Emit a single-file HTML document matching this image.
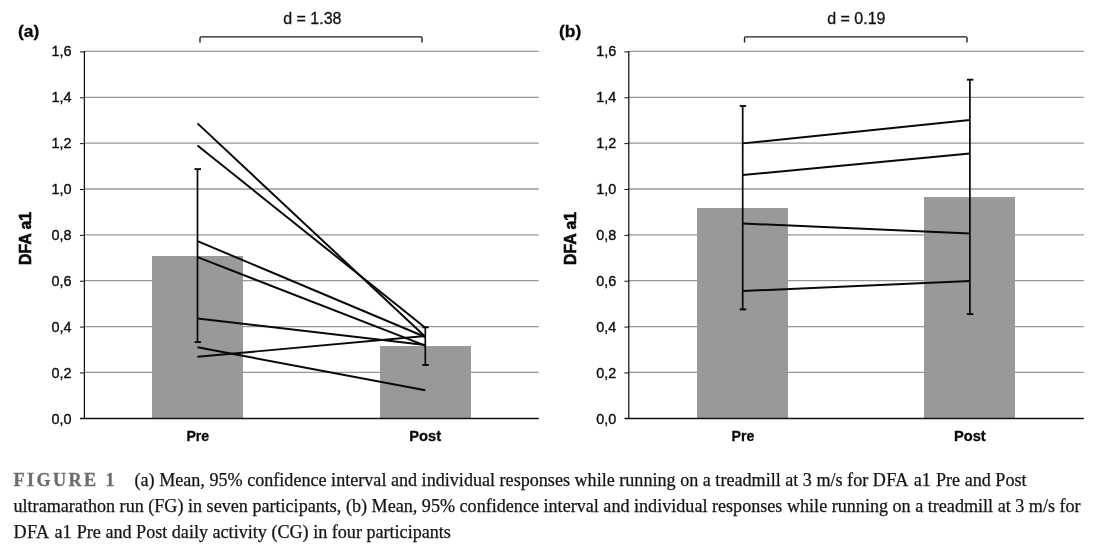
<!DOCTYPE html>
<html><head><meta charset="utf-8"><title>Figure 1</title>
<style>
html,body{margin:0;padding:0;background:#fff;}
body{width:1099px;height:552px;position:relative;overflow:hidden;}
svg{position:absolute;left:0;top:0;}
svg text{font-family:"Liberation Sans",sans-serif;}
.cap{position:absolute;left:13.5px;top:467px;width:1085px;font-family:"Liberation Serif",serif;font-size:18.12px;line-height:26px;color:#141414;white-space:nowrap;-webkit-text-stroke:0.25px #141414;}
.cap .fig{font-weight:bold;color:#6b6c70;letter-spacing:2.45px;-webkit-text-stroke:0.3px #6b6c70;}
.cap .d{letter-spacing:0.3px;}
.cap .g1{display:inline-block;width:0.7px;}
.cap .g2{display:inline-block;width:0.6px;}
.cap .gap{display:inline-block;width:17.4px;}
</style></head><body>
<svg width="1099" height="552" viewBox="0 0 1099 552">
<line x1="84.4" y1="372.44" x2="538.8" y2="372.44" stroke="#969696" stroke-width="1.3"/>
<line x1="84.4" y1="326.58" x2="538.8" y2="326.58" stroke="#969696" stroke-width="1.3"/>
<line x1="84.4" y1="280.72" x2="538.8" y2="280.72" stroke="#969696" stroke-width="1.3"/>
<line x1="84.4" y1="234.86" x2="538.8" y2="234.86" stroke="#969696" stroke-width="1.3"/>
<line x1="84.4" y1="189.0" x2="538.8" y2="189.0" stroke="#969696" stroke-width="1.3"/>
<line x1="84.4" y1="143.14" x2="538.8" y2="143.14" stroke="#969696" stroke-width="1.3"/>
<line x1="84.4" y1="97.28" x2="538.8" y2="97.28" stroke="#969696" stroke-width="1.3"/>
<line x1="84.4" y1="51.42" x2="538.8" y2="51.42" stroke="#969696" stroke-width="1.3"/>
<rect x="152" y="256" width="91" height="162.5" fill="#999999"/>
<rect x="380" y="346" width="91" height="72.5" fill="#999999"/>
<line x1="84.4" y1="51.12" x2="84.4" y2="419.1" stroke="#111" stroke-width="1.25"/>
<line x1="80.0" y1="418.5" x2="538.8" y2="418.5" stroke="#111" stroke-width="1.35"/>
<line x1="80.0" y1="372.94" x2="84.4" y2="372.94" stroke="#111" stroke-width="1"/>
<line x1="80.0" y1="327.08" x2="84.4" y2="327.08" stroke="#111" stroke-width="1"/>
<line x1="80.0" y1="281.22" x2="84.4" y2="281.22" stroke="#111" stroke-width="1"/>
<line x1="80.0" y1="235.36" x2="84.4" y2="235.36" stroke="#111" stroke-width="1"/>
<line x1="80.0" y1="189.5" x2="84.4" y2="189.5" stroke="#111" stroke-width="1"/>
<line x1="80.0" y1="143.64" x2="84.4" y2="143.64" stroke="#111" stroke-width="1"/>
<line x1="80.0" y1="97.78" x2="84.4" y2="97.78" stroke="#111" stroke-width="1"/>
<line x1="80.0" y1="51.92" x2="84.4" y2="51.92" stroke="#111" stroke-width="1"/>
<text transform="translate(71.6 423.65) scale(0.96 1)" font-size="15" text-anchor="end" fill="#0c0c0c" stroke="#0c0c0c" stroke-width="0.38">0,0</text>
<text transform="translate(71.6 377.65) scale(0.96 1)" font-size="15" text-anchor="end" fill="#0c0c0c" stroke="#0c0c0c" stroke-width="0.38">0,2</text>
<text transform="translate(71.6 331.65) scale(0.96 1)" font-size="15" text-anchor="end" fill="#0c0c0c" stroke="#0c0c0c" stroke-width="0.38">0,4</text>
<text transform="translate(71.6 285.65) scale(0.96 1)" font-size="15" text-anchor="end" fill="#0c0c0c" stroke="#0c0c0c" stroke-width="0.38">0,6</text>
<text transform="translate(71.6 239.65) scale(0.96 1)" font-size="15" text-anchor="end" fill="#0c0c0c" stroke="#0c0c0c" stroke-width="0.38">0,8</text>
<text transform="translate(71.6 193.65) scale(0.96 1)" font-size="15" text-anchor="end" fill="#0c0c0c" stroke="#0c0c0c" stroke-width="0.38">1,0</text>
<text transform="translate(71.6 147.65) scale(0.96 1)" font-size="15" text-anchor="end" fill="#0c0c0c" stroke="#0c0c0c" stroke-width="0.38">1,2</text>
<text transform="translate(71.6 101.65) scale(0.96 1)" font-size="15" text-anchor="end" fill="#0c0c0c" stroke="#0c0c0c" stroke-width="0.38">1,4</text>
<text transform="translate(71.6 55.65) scale(0.96 1)" font-size="15" text-anchor="end" fill="#0c0c0c" stroke="#0c0c0c" stroke-width="0.38">1,6</text>
<line x1="197.5" y1="169.1" x2="197.5" y2="342.1" stroke="#080808" stroke-width="1.7"/>
<line x1="194.5" y1="169.1" x2="201.0" y2="169.1" stroke="#080808" stroke-width="1.9"/>
<line x1="194.5" y1="342.1" x2="201.0" y2="342.1" stroke="#080808" stroke-width="1.9"/>
<line x1="425.3" y1="327.3" x2="425.3" y2="365.0" stroke="#080808" stroke-width="1.7"/>
<line x1="422.3" y1="327.3" x2="428.8" y2="327.3" stroke="#080808" stroke-width="1.9"/>
<line x1="422.3" y1="365.0" x2="428.8" y2="365.0" stroke="#080808" stroke-width="1.9"/>
<line x1="197.5" y1="123.4" x2="425.3" y2="336.7" stroke="#080808" stroke-width="1.95" stroke-linecap="butt"/>
<line x1="197.5" y1="145.5" x2="425.3" y2="327.7" stroke="#080808" stroke-width="1.95" stroke-linecap="butt"/>
<line x1="197.5" y1="241.1" x2="425.3" y2="337.0" stroke="#080808" stroke-width="1.95" stroke-linecap="butt"/>
<line x1="197.5" y1="257.2" x2="425.3" y2="345.6" stroke="#080808" stroke-width="1.95" stroke-linecap="butt"/>
<line x1="197.5" y1="318.5" x2="425.3" y2="345" stroke="#080808" stroke-width="1.95" stroke-linecap="butt"/>
<line x1="197.5" y1="347.2" x2="425.3" y2="390.3" stroke="#080808" stroke-width="1.95" stroke-linecap="butt"/>
<line x1="197.5" y1="356.8" x2="425.3" y2="336" stroke="#080808" stroke-width="1.95" stroke-linecap="butt"/>
<path d="M200 42.5 V38 Q200 36.8 201.2 36.8 H420.8 Q422 36.8 422 38 V42.5" fill="none" stroke="#1a1a1a" stroke-width="1.35"/>
<text x="283.2" y="24" font-size="16" fill="#111" stroke="#111" stroke-width="0.3">d = 1.38</text>
<text x="18" y="37.2" font-size="17.4" font-weight="bold" fill="#080808" stroke="#080808" stroke-width="0.3">(a)</text>
<text transform="translate(197.8 440.7) scale(0.95 1)" font-size="14.9" font-weight="bold" text-anchor="middle" fill="#080808" stroke="#080808" stroke-width="0.3">Pre</text>
<text transform="translate(425.2 440.7) scale(0.985 1)" font-size="14.9" font-weight="bold" text-anchor="middle" fill="#080808" stroke="#080808" stroke-width="0.3">Post</text>
<text transform="translate(31.4 238.4) rotate(-90) scale(0.965 1)" font-size="16.4" font-weight="bold" text-anchor="middle" fill="#080808" stroke="#080808" stroke-width="0.6">DFA a1</text>
<line x1="628.8" y1="372.44" x2="1083.8" y2="372.44" stroke="#969696" stroke-width="1.3"/>
<line x1="628.8" y1="326.58" x2="1083.8" y2="326.58" stroke="#969696" stroke-width="1.3"/>
<line x1="628.8" y1="280.72" x2="1083.8" y2="280.72" stroke="#969696" stroke-width="1.3"/>
<line x1="628.8" y1="234.86" x2="1083.8" y2="234.86" stroke="#969696" stroke-width="1.3"/>
<line x1="628.8" y1="189.0" x2="1083.8" y2="189.0" stroke="#969696" stroke-width="1.3"/>
<line x1="628.8" y1="143.14" x2="1083.8" y2="143.14" stroke="#969696" stroke-width="1.3"/>
<line x1="628.8" y1="97.28" x2="1083.8" y2="97.28" stroke="#969696" stroke-width="1.3"/>
<line x1="628.8" y1="51.42" x2="1083.8" y2="51.42" stroke="#969696" stroke-width="1.3"/>
<rect x="697" y="208" width="91" height="210.5" fill="#999999"/>
<rect x="924" y="197" width="91" height="221.5" fill="#999999"/>
<line x1="628.8" y1="51.12" x2="628.8" y2="419.1" stroke="#111" stroke-width="1.25"/>
<line x1="624.4" y1="418.5" x2="1083.8" y2="418.5" stroke="#111" stroke-width="1.35"/>
<line x1="624.4" y1="372.94" x2="628.8" y2="372.94" stroke="#111" stroke-width="1"/>
<line x1="624.4" y1="327.08" x2="628.8" y2="327.08" stroke="#111" stroke-width="1"/>
<line x1="624.4" y1="281.22" x2="628.8" y2="281.22" stroke="#111" stroke-width="1"/>
<line x1="624.4" y1="235.36" x2="628.8" y2="235.36" stroke="#111" stroke-width="1"/>
<line x1="624.4" y1="189.5" x2="628.8" y2="189.5" stroke="#111" stroke-width="1"/>
<line x1="624.4" y1="143.64" x2="628.8" y2="143.64" stroke="#111" stroke-width="1"/>
<line x1="624.4" y1="97.78" x2="628.8" y2="97.78" stroke="#111" stroke-width="1"/>
<line x1="624.4" y1="51.92" x2="628.8" y2="51.92" stroke="#111" stroke-width="1"/>
<text transform="translate(616.2 423.65) scale(0.96 1)" font-size="15" text-anchor="end" fill="#0c0c0c" stroke="#0c0c0c" stroke-width="0.38">0,0</text>
<text transform="translate(616.2 377.65) scale(0.96 1)" font-size="15" text-anchor="end" fill="#0c0c0c" stroke="#0c0c0c" stroke-width="0.38">0,2</text>
<text transform="translate(616.2 331.65) scale(0.96 1)" font-size="15" text-anchor="end" fill="#0c0c0c" stroke="#0c0c0c" stroke-width="0.38">0,4</text>
<text transform="translate(616.2 285.65) scale(0.96 1)" font-size="15" text-anchor="end" fill="#0c0c0c" stroke="#0c0c0c" stroke-width="0.38">0,6</text>
<text transform="translate(616.2 239.65) scale(0.96 1)" font-size="15" text-anchor="end" fill="#0c0c0c" stroke="#0c0c0c" stroke-width="0.38">0,8</text>
<text transform="translate(616.2 193.65) scale(0.96 1)" font-size="15" text-anchor="end" fill="#0c0c0c" stroke="#0c0c0c" stroke-width="0.38">1,0</text>
<text transform="translate(616.2 147.65) scale(0.96 1)" font-size="15" text-anchor="end" fill="#0c0c0c" stroke="#0c0c0c" stroke-width="0.38">1,2</text>
<text transform="translate(616.2 101.65) scale(0.96 1)" font-size="15" text-anchor="end" fill="#0c0c0c" stroke="#0c0c0c" stroke-width="0.38">1,4</text>
<text transform="translate(616.2 55.65) scale(0.96 1)" font-size="15" text-anchor="end" fill="#0c0c0c" stroke="#0c0c0c" stroke-width="0.38">1,6</text>
<line x1="742.7" y1="106.0" x2="742.7" y2="309.4" stroke="#080808" stroke-width="1.7"/>
<line x1="739.7" y1="106.0" x2="746.2" y2="106.0" stroke="#080808" stroke-width="1.9"/>
<line x1="739.7" y1="309.4" x2="746.2" y2="309.4" stroke="#080808" stroke-width="1.9"/>
<line x1="969.9" y1="79.7" x2="969.9" y2="314.1" stroke="#080808" stroke-width="1.7"/>
<line x1="966.9" y1="79.7" x2="973.4" y2="79.7" stroke="#080808" stroke-width="1.9"/>
<line x1="966.9" y1="314.1" x2="973.4" y2="314.1" stroke="#080808" stroke-width="1.9"/>
<line x1="742.7" y1="143.4" x2="969.9" y2="120" stroke="#080808" stroke-width="1.95" stroke-linecap="butt"/>
<line x1="742.7" y1="175" x2="969.9" y2="153.5" stroke="#080808" stroke-width="1.95" stroke-linecap="butt"/>
<line x1="742.7" y1="223.5" x2="969.9" y2="233.5" stroke="#080808" stroke-width="1.95" stroke-linecap="butt"/>
<line x1="742.7" y1="291" x2="969.9" y2="281" stroke="#080808" stroke-width="1.95" stroke-linecap="butt"/>
<path d="M744.5 42.5 V38 Q744.5 36.8 745.7 36.8 H965.8 Q967 36.8 967 38 V42.5" fill="none" stroke="#1a1a1a" stroke-width="1.35"/>
<text x="827.2" y="24" font-size="16" fill="#111" stroke="#111" stroke-width="0.3">d = 0.19</text>
<text x="559" y="37.2" font-size="17.4" font-weight="bold" fill="#080808" stroke="#080808" stroke-width="0.3">(b)</text>
<text transform="translate(743.0 440.7) scale(0.95 1)" font-size="14.9" font-weight="bold" text-anchor="middle" fill="#080808" stroke="#080808" stroke-width="0.3">Pre</text>
<text transform="translate(969.8 440.7) scale(0.985 1)" font-size="14.9" font-weight="bold" text-anchor="middle" fill="#080808" stroke="#080808" stroke-width="0.3">Post</text>
<text transform="translate(575.7 238.4) rotate(-90) scale(0.965 1)" font-size="16.4" font-weight="bold" text-anchor="middle" fill="#080808" stroke="#080808" stroke-width="0.6">DFA a1</text>
</svg>
<div class="cap"><span class="fig">FIGURE 1</span><span class="gap"></span>(a) Mean, 95% confidence interval and individual responses while running on a treadmill at 3 m/s for <span class="d">DFA</span><span class="g1"></span> a1<span class="g2"></span> Pre and Post<br>ultramarathon run (FG) in seven participants, (b) Mean, 95% confidence interval and individual responses while running on a treadmill at 3 m/s for<br><span class="d">DFA</span><span class="g1"></span> a1<span class="g2"></span> Pre and Post daily activity (CG) in four participants</div>
</body></html>
